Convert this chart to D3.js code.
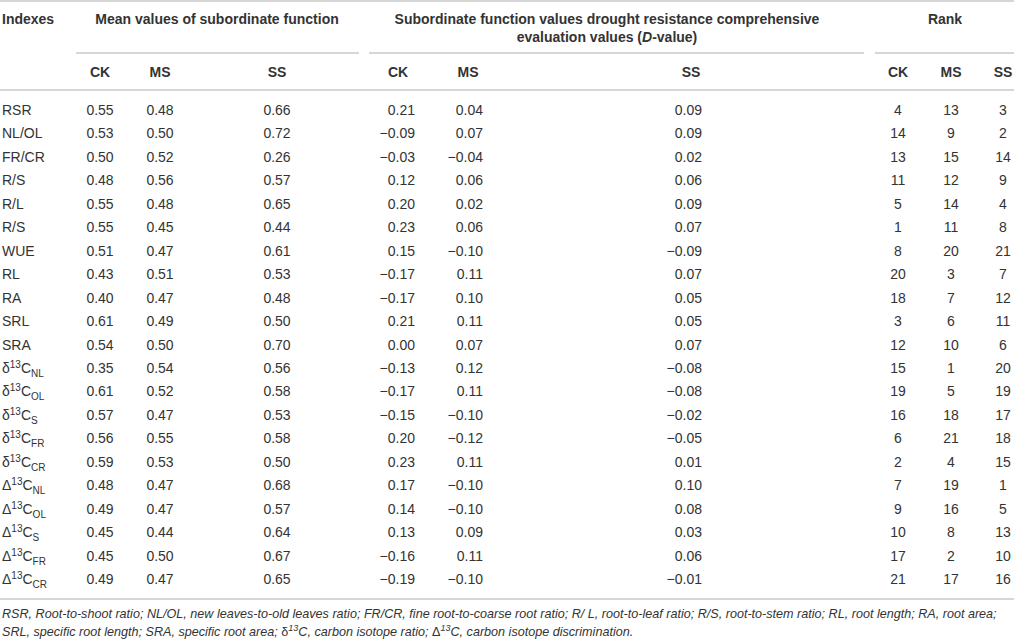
<!DOCTYPE html>
<html>
<head>
<meta charset="utf-8">
<script src="https://cdn.jsdelivr.net/npm/d3@7"></script>
<style>
  html, body { margin: 0; padding: 0; background: #fff; }
  svg { display: block; font-family: "Liberation Sans", Arial, Helvetica, sans-serif; }
</style>
</head>
<body>
<svg id="chart" width="1014" height="639"></svg>
<script>
// ---- data ----
const indexes = ["RSR", "NL/OL", "FR/CR", "R/S", "R/L", "R/S", "WUE", "RL", "RA", "SRL", "SRA",
  "δ13C_NL", "δ13C_OL", "δ13C_S", "δ13C_FR", "δ13C_CR",
  "Δ13C_NL", "Δ13C_OL", "Δ13C_S", "Δ13C_FR", "Δ13C_CR"];
const meanCK = [0.55, 0.53, 0.50, 0.48, 0.55, 0.55, 0.51, 0.43, 0.40, 0.61, 0.54, 0.35, 0.61, 0.57, 0.56, 0.59, 0.48, 0.49, 0.45, 0.45, 0.49];
const meanMS = [0.48, 0.50, 0.52, 0.56, 0.48, 0.45, 0.47, 0.51, 0.47, 0.49, 0.50, 0.54, 0.52, 0.47, 0.55, 0.53, 0.47, 0.47, 0.44, 0.50, 0.47];
const meanSS = [0.66, 0.72, 0.26, 0.57, 0.65, 0.44, 0.61, 0.53, 0.48, 0.50, 0.70, 0.56, 0.58, 0.53, 0.58, 0.50, 0.68, 0.57, 0.64, 0.67, 0.65];
const dCK = [0.21, -0.09, -0.03, 0.12, 0.20, 0.23, 0.15, -0.17, -0.17, 0.21, 0.00, -0.13, -0.17, -0.15, 0.20, 0.23, 0.17, 0.14, 0.13, -0.16, -0.19];
const dMS = [0.04, 0.07, -0.04, 0.06, 0.02, 0.06, -0.10, 0.11, 0.10, 0.11, 0.07, 0.12, 0.11, -0.10, -0.12, 0.11, -0.10, -0.10, 0.09, 0.11, -0.10];
const dSS = [0.09, 0.09, 0.02, 0.06, 0.09, 0.07, -0.09, 0.07, 0.05, 0.05, 0.07, -0.08, -0.08, -0.02, -0.05, 0.01, 0.10, 0.08, 0.03, 0.06, -0.01];
const rankCK = [4, 14, 13, 11, 5, 1, 8, 20, 18, 3, 12, 15, 19, 16, 6, 2, 7, 9, 10, 17, 21];
const rankMS = [13, 9, 15, 12, 14, 11, 20, 3, 7, 6, 10, 1, 5, 18, 21, 4, 19, 16, 8, 2, 17];
const rankSS = [3, 2, 14, 9, 4, 8, 21, 7, 12, 11, 6, 20, 19, 17, 18, 15, 1, 5, 13, 10, 16];
const groupTitles = ["Mean values of subordinate function",
  "Subordinate function values drought resistance comprehensive|evaluation values (D-value)",
  "Rank"];
const subHeaders = ["CK", "MS", "SS"];
const footnotes = [
  "RSR, Root-to-shoot ratio; NL/OL, new leaves-to-old leaves ratio; FR/CR, fine root-to-coarse root ratio; R/ L, root-to-leaf ratio; R/S, root-to-stem ratio; RL, root length; RA, root area;",
  "SRL, specific root length; SRA, specific root area; δ13C, carbon isotope ratio; Δ13C, carbon isotope discrimination."
];

// ---- layout ----
const svg = d3.select("#chart");
const textColor = "#333";
const ruleColor = "#c9c9c9";
const fmt = d3.format(".2f");

const y = d3.scaleLinear().domain([0, indexes.length - 1]).range([110, 579]);

const columns = [
  {data: meanCK, x: 100, anchor: "middle", fmt: fmt},
  {data: meanMS, x: 160, anchor: "middle", fmt: fmt},
  {data: meanSS, x: 277, anchor: "middle", fmt: fmt},
  {data: dCK, x: 415, anchor: "end", fmt: fmt, hx: 398},
  {data: dMS, x: 483, anchor: "end", fmt: fmt, hx: 468},
  {data: dSS, x: 702, anchor: "end", fmt: fmt, hx: 691},
  {data: rankCK, x: 898, anchor: "middle", fmt: d3.format("d")},
  {data: rankMS, x: 951, anchor: "middle", fmt: d3.format("d")},
  {data: rankSS, x: 1003, anchor: "middle", fmt: d3.format("d")}
];
const groups = [
  {x0: 76, x1: 359, cx: 217},
  {x0: 369, x1: 864, cx: 607},
  {x0: 875, x1: 1014, cx: 945}
];

function rule(x0, x1, yy) {
  svg.append("line").attr("x1", x0).attr("x2", x1).attr("y1", yy).attr("y2", yy)
    .attr("stroke", ruleColor).attr("stroke-width", 1.6);
}
rule(0, 1014, 1);
rule(0, 1014, 90);
rule(0, 1014, 599);
groups.forEach(g => rule(g.x0, g.x1, 53));

// header
const head = svg.append("g").attr("fill", textColor).attr("font-size", 14).attr("font-weight", "bold");
head.append("text").attr("x", 2).attr("y", 24).text("Indexes");
groups.forEach((g, i) => {
  const lines = groupTitles[i].split("|");
  lines.forEach((ln, j) => {
    const t = head.append("text").attr("x", g.cx).attr("y", 24 + j * 18).attr("text-anchor", "middle");
    const m = ln.match(/^(.*\()D(-value\))$/);
    if (m) {
      t.append("tspan").text(m[1]);
      t.append("tspan").attr("font-style", "italic").text("D");
      t.append("tspan").text(m[2]);
    } else t.text(ln);
  });
});
columns.forEach((c, i) => {
  head.append("text").attr("x", c.hx !== undefined ? c.hx : c.x).attr("y", 77)
    .attr("text-anchor", "middle").text(subHeaders[i % 3]);
});

// body
const body = svg.append("g").attr("fill", textColor).attr("font-size", 14);
function labelText(sel, s) {
  const m = s.match(/^([δΔ])13C_(\w+)$/);
  if (!m) { sel.text(s); return; }
  sel.append("tspan").text(m[1]);
  sel.append("tspan").attr("font-size", 10).attr("dy", -5).text("13");
  sel.append("tspan").attr("dy", 5).text("C");
  sel.append("tspan").attr("font-size", 10).attr("dy", 4).text(m[2]);
}
indexes.forEach((lab, i) => {
  const t = body.append("text").attr("x", 2).attr("y", y(i) + 5);
  labelText(t, lab);
});
columns.forEach(c => {
  body.selectAll(null).data(c.data).join("text")
    .attr("x", c.x).attr("y", (d, i) => y(i) + 5)
    .attr("text-anchor", c.anchor)
    .text(d => c.fmt(d));
});

// footnotes
const foot = svg.append("g").attr("fill", textColor).attr("font-size", 12.6).attr("font-style", "italic");
footnotes.forEach((f, i) => {
  const t = foot.append("text").attr("x", 2).attr("y", 618 + i * 18);
  const parts = f.split(/(δ13C|Δ13C)/);
  parts.forEach(p => {
    const m = p.match(/^([δΔ])13C$/);
    if (m) {
      t.append("tspan").attr("font-style", "normal").text(m[1]);
      t.append("tspan").attr("font-size", 9).attr("dy", -5).text("13");
      t.append("tspan").attr("dy", 5).text("C");
    } else if (p) t.append("tspan").text(p);
  });
});
</script>
</body>
</html>
